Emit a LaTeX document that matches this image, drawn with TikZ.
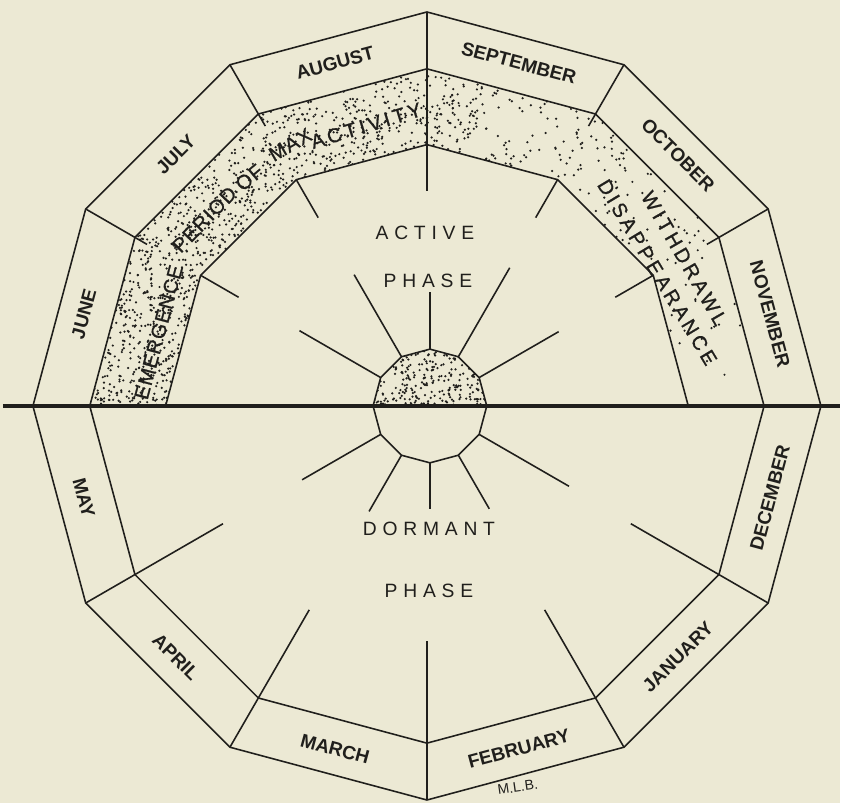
\documentclass[tikz,border=0pt]{standalone}
\usepackage{fontspec}
\setmainfont{Liberation Sans}
\newfontfamily\phasefont[LetterSpace=30]{Liberation Sans}
\newfontfamily\bandfont[LetterSpace=5, FakeBold=0.9]{Liberation Sans}
\newfontfamily\widebandfont[LetterSpace=17, FakeBold=0.9]{Liberation Sans}
\definecolor{paper}{RGB}{236,233,212}
\definecolor{ink}{RGB}{32,31,28}

\begin{document}
\begin{tikzpicture}[
    x=0.02cm, y=0.02cm,
    line width=0.9pt, color=ink,
    month/.style={font=\fontsize{10.8}{12}\selectfont\bfseries, inner sep=0pt},
    phase/.style={font=\phasefont\fontsize{11}{13}\selectfont, inner sep=0pt},
    band/.style={font=\bandfont\fontsize{11.5}{13}\selectfont, inner sep=0pt},
    wideband/.style={font=\widebandfont\fontsize{11.5}{13}\selectfont, inner sep=0pt},
    stipple/.style={fill=ink}
]
    % paper
    \fill[paper] (-431,-398) rectangle (411,407);

    \begin{scope}[shift={(-3,0)}]
        % stippled band (active half)
        \begin{scope}
            \clip (0:338) foreach \a in {30,60,...,180} {-- (\a:338)}
                -- (180:262) foreach \a in {150,120,...,0} {-- (\a:262)} -- cycle;
            \pgfmathsetseed{42}
            \foreach \i in {1,...,1000} {
                \pgfmathsetmacro\ang{180*sqrt(rnd)}
                \pgfmathsetmacro\rad{250+90*rnd}
                \fill[stipple] (\ang:\rad) circle (0.7pt);
            }
            \foreach \i in {1,...,500} {
                \pgfmathsetmacro\ang{80+100*rnd}
                \pgfmathsetmacro\rad{250+90*rnd}
                \fill[stipple] (\ang:\rad) circle (0.7pt);
            }
        \end{scope}

        % outer and inner rings
        \draw (0:395) foreach \a in {30,60,...,330} {-- (\a:395)} -- cycle;
        \draw (0:338) foreach \a in {30,60,...,330} {-- (\a:338)} -- cycle;
        \draw (0:262) foreach \a in {30,60,...,180} {-- (\a:262)};

        % month dividers and ticks
        \foreach \a in {30,60,120,150} {
            \draw (\a:395) -- (\a:324);
            \draw (\a:262) -- (\a:218);
        }
        \draw (90:395) -- (90:216);
        \foreach \a in {210,240,...,330}
            \draw (\a:395) -- (\a:236);

        % months
        \foreach \ang/\rot/\name in {15/-75/NOVEMBER, 45/-45/OCTOBER, 75/-15/SEPTEMBER,
                105/15/AUGUST, 135/45/JULY, 165/75/JUNE, 195/-75/MAY, 225/-45/APRIL,
                255/-15/MARCH, 285/15/FEBRUARY, 315/45/JANUARY, 345/75/DECEMBER}
            \node[month, rotate=\rot] (month\ang) at (\ang:356) {\name};
    \end{scope}

    % centre
    \begin{scope}
        \clip (0:57) foreach \a in {30,60,...,180} {-- (\a:57)} -- cycle;
        \foreach \i in {1,...,240} {
            \pgfmathsetmacro\ang{180*rnd}
            \pgfmathsetmacro\rad{58*sqrt(rnd)}
            \fill[stipple] (\ang:\rad) circle (0.7pt);
        }
    \end{scope}
    \draw (0:57) foreach \a in {30,60,...,330} {-- (\a:57)} -- cycle;
    \foreach \a/\len in {30/149, 60/160, 90/114, 120/152, 150/151,
                         210/148, 240/122, 270/103, 300/119, 330/161}
        \draw (\a:57) -- (\a:\len);

    % dividing line
    \draw[line width=2.4pt] (-428,0) -- (411,0);

    % phases
    \node[phase] (active) at (-5,174) {ACTIVE};
    \node[phase] (phaseup) at (-2,125) {PHASE};
    \node[phase] (dormant) at (-1,-123) {DORMANT};
    \node[phase] (phasedown) at (-1,-185) {PHASE};

    % band texts
    \node[band, rotate=75] (emerge) at (-272,74) {EMERGENCE};
    \node[band, rotate=46] (period) at (-226,187) {PERIOD};
    \node[band, rotate=40] (of) at (-181,229) {OF};
    \node[band, rotate=30] (max) at (-140,262) {MAX};
    \node[wideband, rotate=17] (activity) at (-64,281) {ACTIVITY};
    \node[wideband, rotate=-60] (withdraw) at (255,148) {WITHDRAWL};
    \node[wideband, rotate=-59] (disappear) at (228,134) {DISAPPEARANCE};

    % signature
    \node[font=\fontsize{8}{9}\selectfont, rotate=8] (sign) at (88,-382) {M.L.B.};
\end{tikzpicture}
\end{document}
